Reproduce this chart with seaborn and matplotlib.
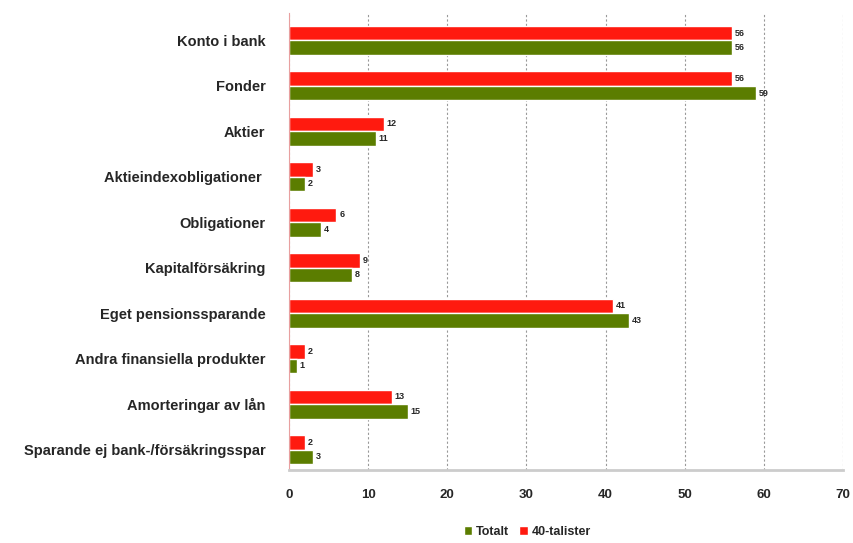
import pandas as pd
import matplotlib
matplotlib.use('Agg')
import matplotlib.pyplot as plt
import seaborn as sns

categories = ['Konto i bank', 'Fonder', 'Aktier', 'Aktieindexobligationer ',
              'Obligationer', 'Kapitalförsäkring', 'Eget pensionssparande',
              'Andra finansiella produkter', 'Amorteringar av lån',
              'Sparande ej bank-/försäkringsspar']
fyrtiotalister = [56, 56, 12, 3, 6, 9, 41, 2, 13, 2]
totalt = [56, 59, 11, 2, 4, 8, 43, 1, 15, 3]

df = pd.DataFrame({
    'Kategori': categories * 2,
    'Varde': fyrtiotalister + totalt,
    'Grupp': ['40-talister'] * len(categories) + ['Totalt'] * len(categories),
})

sns.set_style('white')
plt.rcParams['font.family'] = ['Liberation Sans', 'DejaVu Sans']

fig = plt.figure(figsize=(8.54, 5.43), dpi=100)
ax = fig.add_axes([289 / 854, 73 / 543, (843 - 289) / 854, (530 - 73) / 543])

palette = {'40-talister': '#ff1a0f', 'Totalt': '#5b7d00'}
sns.barplot(data=df, y='Kategori', x='Varde', hue='Grupp',
            hue_order=['40-talister', 'Totalt'], palette=palette,
            orient='h', width=0.64, saturation=1, ax=ax)

for cont in ax.containers:
    ax.bar_label(cont, fmt='%d', fontsize=6.5, padding=2, fontweight='bold')

ax.set_xlim(0, 70)
ax.set_ylim(9.45, -0.6)
ax.set_xticks(range(0, 71, 10))
ax.xaxis.grid(True, linestyle=(0, (2, 2)), color='#999999', linewidth=0.8)
ax.set_axisbelow(True)
ax.set_xlabel('')
ax.set_ylabel('')
ax.tick_params(axis='y', length=0, labelsize=10.5, pad=17)
ax.tick_params(axis='x', length=0, labelsize=9.5, pad=14)
for lbl in ax.get_yticklabels():
    lbl.set_fontweight('bold')
for lbl in ax.get_xticklabels():
    lbl.set_fontweight('bold')

for s in ['top', 'right']:
    ax.spines[s].set_visible(False)
ax.spines['left'].set_color('#e8a0a0')
ax.spines['bottom'].set_color('#cccccc')
ax.spines['bottom'].set_linewidth(2)

handles, labels = ax.get_legend_handles_labels()
ax.legend([handles[1], handles[0]], [labels[1], labels[0]],
          loc='upper center', bbox_to_anchor=(0.43, -0.098), ncol=2,
          frameon=False, handlelength=0.7, handleheight=0.7,
          columnspacing=0.8, handletextpad=0.3,
          prop={'weight': 'bold', 'size': 9})

fig.savefig('out.png', dpi=100)
